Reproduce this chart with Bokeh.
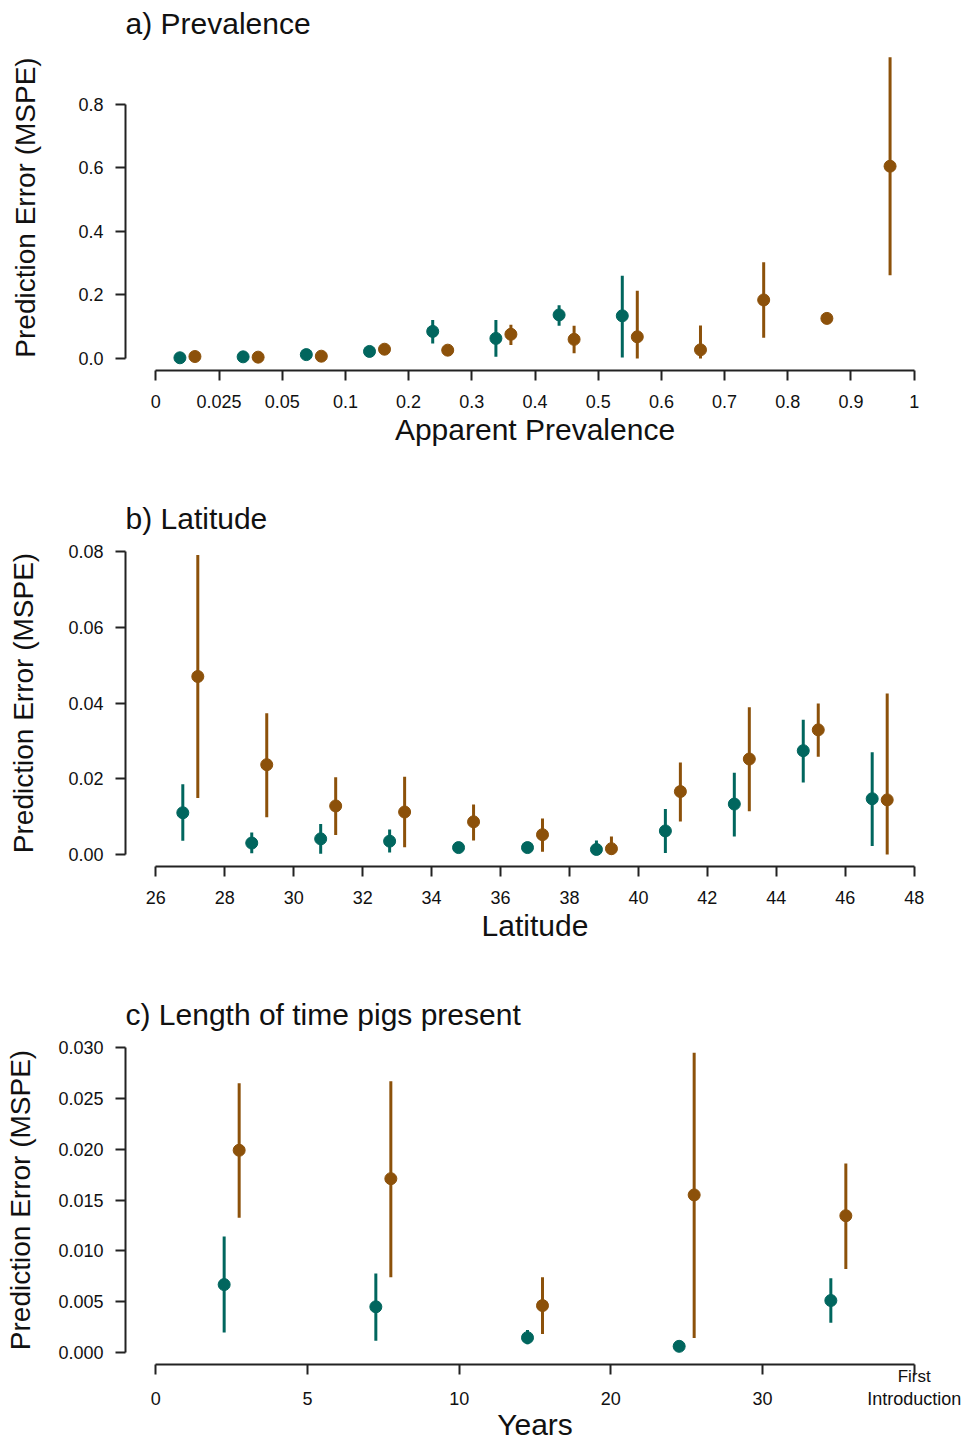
from bokeh.plotting import figure
from bokeh.layouts import column
from bokeh.models import FixedTicker, Range1d, LinearAxis
from bokeh.embed import file_html
from bokeh.resources import INLINE

TEAL = "#01665E"
BROWN = "#8C510A"
FONT = "Liberation Sans"
TXT = "#111111"

# ---------------- a) Prevalence ----------------
prev_tick_labels = ["0", "0.025", "0.05", "0.1", "0.2", "0.3", "0.4", "0.5",
                    "0.6", "0.7", "0.8", "0.9", "1"]
prev_y_labels = ["0.0", "0.2", "0.4", "0.6", "0.8"]
prev_teal = [0.002, 0.005, 0.012, 0.022, 0.085, 0.063, 0.137, 0.134]
prev_teal_lo = [0.002, 0.005, 0.012, 0.022, 0.047, 0.005, 0.103, 0.003]
prev_teal_hi = [0.002, 0.005, 0.012, 0.022, 0.121, 0.121, 0.167, 0.260]
prev_brown = [0.006, 0.004, 0.007, 0.029, 0.026, 0.076, 0.060, 0.068, 0.027, 0.184, 0.126, 0.605]
prev_brown_lo = [0.006, 0.004, 0.007, 0.029, 0.013, 0.042, 0.016, 0.0, 0.0, 0.065, 0.126, 0.262]
prev_brown_hi = [0.006, 0.004, 0.007, 0.029, 0.037, 0.106, 0.103, 0.213, 0.104, 0.303, 0.126, 0.948]

# ---------------- b) Latitude ----------------
lat_edges = [26, 28, 30, 32, 34, 36, 38, 40, 42, 44, 46, 48]
lat_y_labels = ["0.00", "0.02", "0.04", "0.06", "0.08"]
lat_teal = [0.0110, 0.0030, 0.0041, 0.0035, 0.0018, 0.0018, 0.0013, 0.0062, 0.0133, 0.0274, 0.0147]
lat_teal_lo = [0.0036, 0.0003, 0.0002, 0.0005, 0.0018, 0.0018, 0.0, 0.0004, 0.0047, 0.0190, 0.0022]
lat_teal_hi = [0.0185, 0.0058, 0.0080, 0.0066, 0.0018, 0.0018, 0.0037, 0.0120, 0.0216, 0.0356, 0.0270]
lat_brown = [0.0470, 0.0237, 0.0128, 0.0112, 0.0086, 0.0052, 0.0015, 0.0166, 0.0252, 0.0329, 0.0144]
lat_brown_lo = [0.0149, 0.0098, 0.0051, 0.0019, 0.0037, 0.0007, 0.0, 0.0087, 0.0114, 0.0258, 0.0]
lat_brown_hi = [0.0791, 0.0373, 0.0204, 0.0205, 0.0132, 0.0095, 0.0047, 0.0243, 0.0389, 0.0399, 0.0425]

# ---------------- c) Length of time pigs present ----------------
years_tick_labels = ["0", "5", "10", "20", "30", "First\nIntroduction"]
years_y_labels = ["0.000", "0.005", "0.010", "0.015", "0.020", "0.025", "0.030"]
yrs_teal = [0.00667, 0.00448, 0.00144, 0.00059, 0.0051]
yrs_teal_lo = [0.00196, 0.00115, 0.0008, 0.00059, 0.0029]
yrs_teal_hi = [0.0114, 0.00775, 0.0022, 0.00059, 0.0073]
yrs_brown = [0.0199, 0.0171, 0.0046, 0.0155, 0.01345]
yrs_brown_lo = [0.01325, 0.0074, 0.0018, 0.0014, 0.0082]
yrs_brown_hi = [0.0265, 0.0267, 0.0074, 0.0295, 0.0186]

FRAME_W = 819
DODGE_PX = 7.5


def style_axis(ax):
    ax.axis_line_width = 2
    ax.axis_line_color = "#222222"
    ax.major_tick_line_width = 2
    ax.major_tick_line_color = "#222222"
    ax.major_tick_out = 10
    ax.major_tick_in = 0
    ax.minor_tick_out = 0
    ax.minor_tick_in = 0
    ax.major_label_text_font = FONT
    ax.major_label_text_font_size = "18px"
    ax.major_label_text_color = TXT
    ax.major_label_standoff = 12
    ax.axis_label_text_font = FONT
    ax.axis_label_text_font_style = "normal"
    ax.axis_label_text_color = TXT


def make_panel(title, xlabel, x0, x1, xticks, xtick_labels, ylabels, ytop,
               series, top, bottom, bin_width, ylab_standoff, frame_h):
    ext_x = 0.04 * (x1 - x0)
    ext_y = 0.04 * ytop
    p = figure(frame_width=FRAME_W, frame_height=frame_h,
               x_range=Range1d(x0 - ext_x, x1 + ext_x),
               y_range=Range1d(-ext_y, ytop + ext_y),
               output_backend="svg", toolbar_location=None,
               min_border_left=125, min_border_right=21,
               min_border_top=top, min_border_bottom=bottom,
               outline_line_color=None, background_fill_color="white",
               border_fill_color="white")
    p.xgrid.visible = False
    p.ygrid.visible = False

    units_per_px = (x1 - x0 + 2 * ext_x) / FRAME_W
    d = DODGE_PX * units_per_px
    for (starts, vals, lo, hi, col, sign) in series:
        xs = [s + bin_width / 2 + sign * d for s in starts[:len(vals)]]
        p.segment(x0=xs, y0=lo, x1=xs, y1=hi, line_color=col, line_width=3)
        p.scatter(x=xs, y=vals, size=12, fill_color=col, line_color=col)

    xa = p.xaxis[0]
    style_axis(xa)
    xa.ticker = FixedTicker(ticks=xticks)
    if xtick_labels is not None:
        xa.major_label_overrides = {t: l for t, l in zip(xticks, xtick_labels)}
    xa.bounds = (x0, x1)
    xa.axis_label = xlabel
    xa.major_label_standoff = 14
    xa.axis_label_text_font_size = "30px"
    xa.axis_label_standoff = 2

    ya = p.yaxis[0]
    style_axis(ya)
    yt = [float(l) for l in ylabels]
    ya.ticker = FixedTicker(ticks=yt)
    ya.major_label_overrides = {t: l for t, l in zip(yt, ylabels)}
    ya.bounds = (yt[0], yt[-1])
    ya.axis_label = "Prediction Error (MSPE)"
    ya.axis_label_text_font_size = "28px"
    ya.axis_label_standoff = ylab_standoff

    p.title.text = title
    p.title.text_font = FONT
    p.title.text_font_size = "30px"
    p.title.text_font_style = "normal"
    p.title.text_color = TXT
    p.title.align = "left"
    p.title.offset = 0
    p.title.standoff = 9
    return p


pa = make_panel("a) Prevalence", "Apparent Prevalence", 0, 12,
                list(range(len(prev_tick_labels))), prev_tick_labels, prev_y_labels, 0.95,
                [(list(range(12)), prev_teal, prev_teal_lo, prev_teal_hi, TEAL, -1),
                 (list(range(12)), prev_brown, prev_brown_lo, prev_brown_hi, BROWN, 1)],
                44, 125, 1, 34, 326)

pb = make_panel("b) Latitude", "Latitude", lat_edges[0], lat_edges[-1],
                lat_edges, None, lat_y_labels, 0.08,
                [(lat_edges, lat_teal, lat_teal_lo, lat_teal_hi, TEAL, -1),
                 (lat_edges, lat_brown, lat_brown_lo, lat_brown_hi, BROWN, 1)],
                44, 125, 2, 26, 327)

yr_ticks = list(range(len(years_tick_labels)))
pc = make_panel("c) Length of time pigs present", None, 0, 5,
                yr_ticks, None, years_y_labels, 0.03,
                [(list(range(5)), yrs_teal, yrs_teal_lo, yrs_teal_hi, TEAL, -1),
                 (list(range(5)), yrs_brown, yrs_brown_lo, yrs_brown_hi, BROWN, 1)],
                44, 78, 1, 19, 329)
# Two-line tick label: the first line sits just under the axis line (drawn by the
# main axis), the second line shares the row of the other tick labels.
first_lines = {t: (l.split("\n")[0] if "\n" in l else "") for t, l in zip(yr_ticks, years_tick_labels)}
last_lines = {t: l.split("\n")[-1] for t, l in zip(yr_ticks, years_tick_labels)}
xa1 = pc.xaxis[0]
xa1.major_label_overrides = first_lines
xa1.major_label_text_font_size = "17px"
xa1.major_label_standoff = -8
xa1.axis_label = None
xa2 = LinearAxis(ticker=FixedTicker(ticks=yr_ticks), major_label_overrides=last_lines)
style_axis(xa2)
xa2.axis_line_color = None
xa2.major_tick_line_color = None
xa2.major_tick_out = 0
xa2.major_label_standoff = 0
xa2.axis_label = "Years"
xa2.axis_label_text_font_size = "30px"
xa2.axis_label_standoff = -4
pc.add_layout(xa2, "below")

layout = column(pa, pb, pc, spacing=0)
open("out.html", "w").write(file_html(layout, INLINE))
